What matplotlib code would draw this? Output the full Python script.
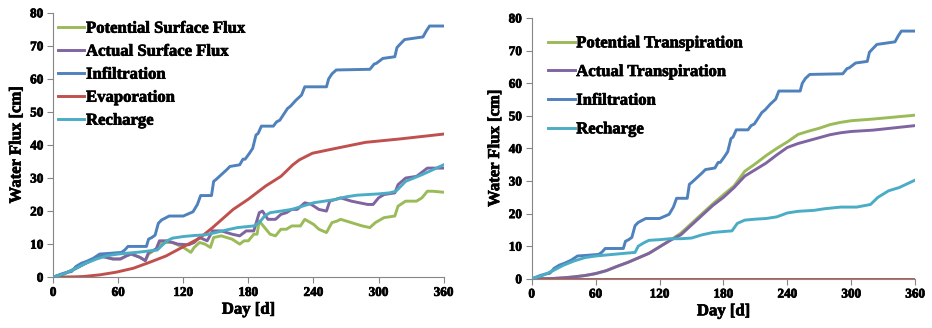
import matplotlib
matplotlib.use("Agg")
import matplotlib.pyplot as plt
import matplotlib.patheffects as pe

plt.rcParams['font.family'] = ['Liberation Serif', 'DejaVu Serif']
plt.rcParams['font.weight'] = 'bold'

# ---------------- data ----------------
infil_day = [0, 8, 12, 17, 21, 26, 31, 37, 43, 52, 63, 66, 69, 86, 88, 91, 94, 97, 100, 107, 120, 127, 129, 133, 136, 139, 146, 148, 150, 155, 160, 163, 172, 175, 177, 181, 184, 187, 189, 192, 203, 206, 209, 213, 216, 219, 224, 229, 232, 252, 254, 257, 261, 292, 296, 298, 304, 315, 317, 319, 324, 341, 344, 347, 360]
infil_val = [0, 1.0, 1.4, 1.7, 3.2, 4.2, 4.8, 5.7, 7.0, 7.2, 7.5, 8.2, 9.3, 9.3, 11.5, 12.0, 12.7, 16.3, 17.3, 18.5, 18.5, 19.5, 19.8, 22.0, 24.7, 24.7, 24.7, 29.0, 29.5, 31.0, 32.5, 33.5, 34.0, 35.7, 35.7, 37.5, 39.0, 43.0, 43.5, 45.7, 45.7, 47.0, 47.5, 49.5, 51.0, 51.8, 53.6, 55.1, 57.6, 57.6, 60.0, 61.5, 62.7, 62.9, 64.5, 64.7, 66.2, 66.7, 69.5, 70.2, 71.9, 72.7, 74.5, 76.0, 76.0]

evap_day = [0, 20, 28, 43, 58, 74, 89, 104, 120, 135, 147, 166, 180, 196, 210, 221, 227, 239, 258, 276, 288, 319, 360]
evap_val = [0, 0.1, 0.2, 0.7, 1.5, 2.7, 4.5, 6.4, 9.2, 11.8, 15.0, 20.5, 23.6, 27.6, 30.5, 34.0, 35.5, 37.5, 38.8, 40.0, 40.8, 41.8, 43.3]

rech1_day = [0, 10, 20, 30, 40, 50, 60, 70, 80, 90, 96, 100, 105, 110, 120, 130, 140, 150, 160, 170, 185, 190, 195, 200, 210, 220, 230, 240, 250, 260, 270, 280, 300, 310, 316, 325, 340, 350, 360]
rech1_val = [0, 1.0, 2.5, 4.2, 5.5, 6.5, 7.0, 7.3, 7.6, 8.0, 8.2, 9.5, 11.0, 11.8, 12.3, 12.6, 12.8, 13.5, 14.3, 15.0, 15.5, 16.5, 18.5, 19.5, 20.0, 20.5, 21.5, 22.5, 23.0, 23.5, 24.3, 24.8, 25.2, 25.5, 26.0, 29.0, 31.0, 32.5, 34.0]

asf_day = [0, 10, 20, 30, 40, 45, 55, 62, 68, 72, 80, 85, 88, 95, 98, 105, 115, 125, 130, 135, 142, 147, 155, 165, 172, 178, 185, 190, 193, 198, 205, 210, 215, 220, 225, 232, 238, 245, 252, 255, 265, 275, 290, 295, 300, 305, 315, 318, 325, 335, 345, 360]
asf_val = [0, 1.0, 2.5, 4.2, 5.8, 6.3, 5.5, 5.5, 6.5, 7.0, 6.0, 5.0, 7.5, 8.5, 11.0, 11.0, 10.0, 9.8, 10.5, 12.0, 11.0, 14.0, 14.0, 13.0, 12.5, 14.0, 14.0, 19.5, 20.0, 17.5, 17.5, 19.0, 19.5, 20.5, 20.5, 22.5, 22.0, 20.5, 20.0, 23.0, 24.0, 23.0, 22.0, 22.0, 24.0, 25.0, 25.5, 28.0, 30.0, 30.5, 33.0, 33.0]

psf_day = [0, 10, 20, 30, 40, 45, 55, 62, 68, 72, 80, 85, 88, 95, 100, 110, 120, 127, 130, 135, 140, 145, 148, 155, 165, 172, 176, 180, 185, 188, 190, 195, 200, 205, 210, 215, 220, 228, 232, 240, 245, 252, 257, 262, 265, 275, 285, 292, 297, 305, 315, 318, 325, 335, 340, 345, 350, 360]
psf_val = [0, 1.0, 2.5, 4.2, 5.8, 6.3, 5.5, 5.5, 6.5, 7.0, 6.0, 5.0, 7.0, 8.5, 10.5, 10.5, 9.0, 7.5, 9.0, 10.5, 10.0, 9.0, 12.0, 12.5, 11.5, 10.0, 11.0, 11.0, 13.0, 13.0, 17.0, 15.0, 13.0, 12.5, 14.5, 14.5, 15.5, 15.5, 17.5, 16.0, 14.5, 13.5, 16.5, 17.0, 17.5, 16.5, 15.5, 15.0, 16.5, 18.0, 18.5, 21.5, 23.0, 23.0, 24.0, 26.0, 26.0, 25.7]

rech2_day = [0, 10, 20, 30, 40, 50, 60, 70, 80, 90, 97, 100, 105, 110, 120, 130, 140, 150, 160, 170, 180, 188, 193, 200, 210, 220, 230, 240, 250, 265, 275, 290, 305, 318, 325, 335, 345, 360]
rech2_val = [0, 1.0, 2.5, 4.2, 5.5, 6.5, 7.0, 7.3, 7.6, 7.9, 8.1, 10.0, 11.0, 11.8, 12.0, 12.3, 12.3, 12.5, 13.5, 14.2, 14.5, 14.7, 17.0, 18.0, 18.3, 18.5, 19.0, 20.2, 20.7, 21.0, 21.5, 22.0, 22.0, 22.8, 25.0, 27.0, 28.0, 30.3]

ptr_day = [0, 20, 30, 40, 50, 60, 70, 80, 90, 100, 110, 120, 130, 140, 150, 160, 170, 180, 190, 200, 210, 220, 230, 240, 250, 260, 270, 280, 290, 300, 320, 340, 360]
ptr_val = [0, 0.1, 0.3, 0.6, 1.0, 1.6, 2.5, 3.8, 5.0, 6.4, 7.8, 9.8, 11.8, 14.0, 17.0, 20.0, 23.0, 25.8, 28.5, 33.0, 35.3, 37.8, 40.0, 42.0, 44.3, 45.3, 46.2, 47.3, 48.0, 48.5, 49.0, 49.6, 50.2]

atr_day = [0, 20, 30, 40, 50, 60, 70, 80, 90, 100, 110, 120, 130, 140, 150, 160, 170, 180, 190, 200, 210, 220, 230, 240, 250, 260, 270, 280, 290, 300, 320, 340, 360]
atr_val = [0, 0.1, 0.3, 0.6, 1.0, 1.6, 2.5, 3.8, 5.0, 6.4, 7.8, 9.8, 11.8, 13.5, 16.5, 19.5, 22.5, 25.0, 28.0, 31.5, 33.5, 35.5, 38.0, 40.3, 41.5, 42.4, 43.3, 44.2, 44.8, 45.2, 45.6, 46.3, 47.0]

zero_day = [0, 360]
zero_val = [0, 0]

xticks = [0, 60, 120, 180, 240, 300, 360]
yticks = [0, 10, 20, 30, 40, 50, 60, 70, 80]

GREEN = '#9BBB59'
PURPLE = '#8064A2'
BLUE = '#4F81BD'
RED = '#C0504D'
CYAN = '#4BACC6'

fig = plt.figure(figsize=(9.32, 3.28), dpi=100)
ax1 = fig.add_axes([0.057, 0.155, 0.419, 0.806])
ax2 = fig.add_axes([0.5705, 0.150, 0.4115, 0.795])

lw = 2.1
FX = [pe.withStroke(linewidth=0.5, foreground='black')]
TXT = dict(family='Liberation Serif', weight='bold')

def style(ax):
    ax.set_xlim(0, 360)
    ax.set_ylim(0, 80)
    ax.set_xticks(xticks)
    ax.set_yticks(yticks)
    for s in ['top', 'right']:
        ax.spines[s].set_visible(False)
    for s in ['left', 'bottom']:
        ax.spines[s].set_color('#868686')
        ax.spines[s].set_linewidth(0.8)
    ax.tick_params(direction='out', length=4, color='#868686', labelsize=9.5, pad=3)
    for lab in ax.get_xticklabels() + ax.get_yticklabels():
        lab.set_fontweight('bold')
        lab.set_family('Liberation Serif')
        lab.set_path_effects(FX)
    ax.set_xlabel('Day [d]', fontsize=12, labelpad=2, path_effects=FX, **TXT)
    ax.set_ylabel('Water Flux [cm]', fontsize=12, labelpad=4, path_effects=FX, **TXT)

def make_legend(ax, order, anchor, spacing):
    h, l = ax.get_legend_handles_labels()
    hh = [h[l.index(o)] for o in order]
    leg = ax.legend(hh, order, loc='upper left', bbox_to_anchor=anchor, frameon=False,
                    prop={'family': 'Liberation Serif', 'weight': 'bold', 'size': 12},
                    handlelength=1.58, handletextpad=0.1, labelspacing=spacing, borderaxespad=0.2)
    for t in leg.get_texts():
        t.set_path_effects(FX)
    return leg

# Left panel (Excel series order: later series on top)
ax1.plot(psf_day, psf_val, color=GREEN, lw=lw, label='Potential Surface Flux', zorder=2)
ax1.plot(asf_day, asf_val, color=PURPLE, lw=lw, label='Actual Surface Flux', zorder=3)
ax1.plot(infil_day, infil_val, color=BLUE, lw=lw, label='Infiltration', zorder=4)
ax1.plot(evap_day, evap_val, color=RED, lw=lw, label='Evaporation', zorder=5)
ax1.plot(rech1_day, rech1_val, color=CYAN, lw=lw, label='Recharge', zorder=6)
style(ax1)
make_legend(ax1, ['Potential Surface Flux', 'Actual Surface Flux', 'Infiltration', 'Evaporation', 'Recharge'],
            (-0.013, 1.008), 0.42)

# Right panel
ax2.plot(ptr_day, ptr_val, color=GREEN, lw=lw, label='Potential Transpiration', zorder=2)
ax2.plot(atr_day, atr_val, color=PURPLE, lw=lw, label='Actual Transpiration', zorder=3)
ax2.plot(infil_day, infil_val, color=BLUE, lw=lw, label='Infiltration', zorder=4)
ax2.plot(zero_day, zero_val, color=RED, lw=lw, zorder=5)
ax2.plot(rech2_day, rech2_val, color=CYAN, lw=lw, label='Recharge', zorder=6)
style(ax2)
make_legend(ax2, ['Potential Transpiration', 'Actual Transpiration', 'Infiltration', 'Recharge'],
            (0.017, 0.972), 0.76)

fig.savefig('out.png', dpi=100)
